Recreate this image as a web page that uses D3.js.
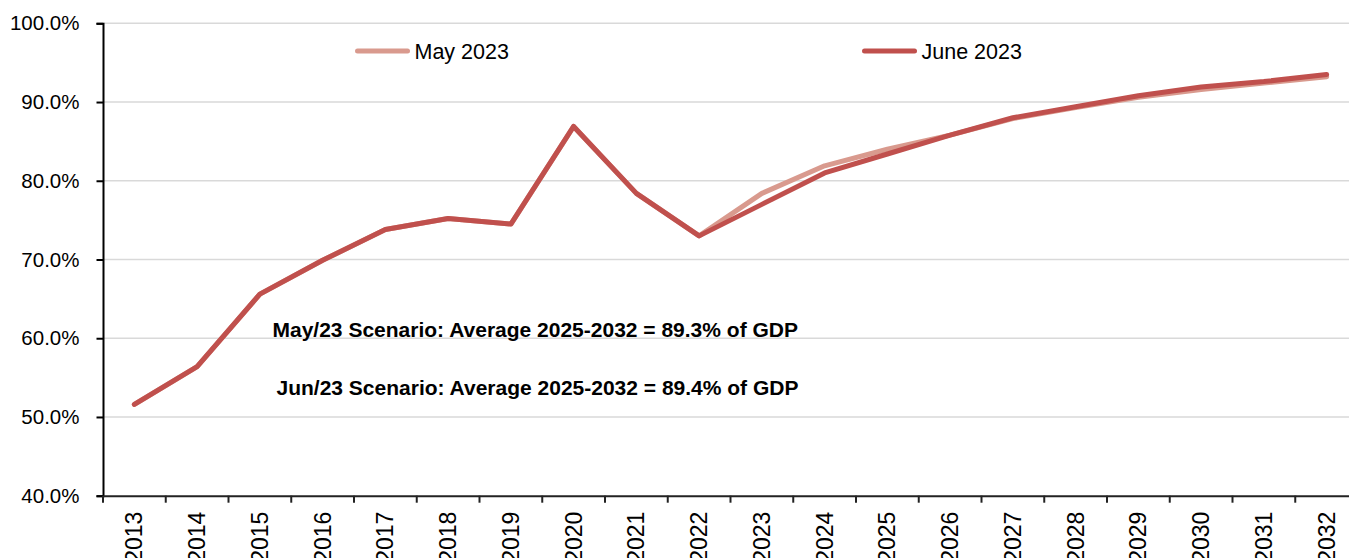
<!DOCTYPE html>
<html>
<head>
<meta charset="utf-8">
<script src="https://cdn.jsdelivr.net/npm/d3@7"></script>
<style>
  body { margin: 0; background: #fff; }
  svg { display: block; font-family: "Liberation Sans", Arial, sans-serif; }
</style>
</head>
<body>
<script>
// chart data
const years = ["2013", "2014", "2015", "2016", "2017", "2018", "2019", "2020", "2021", "2022",
               "2023", "2024", "2025", "2026", "2027", "2028", "2029", "2030", "2031", "2032"];
const may2023 = [51.6, 56.4, 65.6, 69.9, 73.8, 75.2, 74.5, 86.9, 78.4, 73.0,
                 78.4, 81.9, 84.0, 85.8, 87.9, 89.3, 90.6, 91.6, 92.4, 93.2];
const june2023 = [51.6, 56.4, 65.6, 69.9, 73.8, 75.2, 74.5, 86.9, 78.4, 73.0,
                  77.0, 81.0, 83.4, 85.8, 88.0, 89.4, 90.8, 91.9, 92.6, 93.5];
const yTicks = [40, 50, 60, 70, 80, 90, 100];
const seriesNames = ["May 2023", "June 2023"];
const notes = ["May/23 Scenario: Average 2025-2032 = 89.3% of GDP",
               "Jun/23 Scenario: Average 2025-2032 = 89.4% of GDP"];

const W = 1349, H = 558;
const plot = { left: 103, right: 1358, top: 23.3, bottom: 495.7 };
const colors = ["#D99A8E", "#C0504D"];

const svg = d3.select("body").append("svg")
    .attr("width", W)
    .attr("height", H);

const x = d3.scaleBand().domain(years).range([plot.left, plot.right]).padding(0);
const y = d3.scaleLinear().domain([40, 100]).range([plot.bottom, plot.top]);

// gridlines
svg.append("g")
    .selectAll("line")
    .data(yTicks.slice(1))
    .join("line")
    .attr("x1", plot.left).attr("x2", W)
    .attr("y1", d => y(d)).attr("y2", d => y(d))
    .attr("stroke", "#d9d9d9")
    .attr("stroke-width", 1.5);

// y axis
const yAxis = svg.append("g")
    .attr("transform", `translate(${plot.left},0)`)
    .call(d3.axisLeft(y).tickValues(yTicks).tickSize(6.5).tickPadding(17)
        .tickFormat(d => d.toFixed(1) + "%"));
yAxis.select(".domain").attr("stroke", "#000").attr("stroke-width", 2);
yAxis.selectAll(".tick line").attr("stroke", "#000").attr("stroke-width", 2);
yAxis.selectAll("text")
    .attr("font-size", "20.5px")
    .attr("fill", "#000")
    .style("font-family", "'Liberation Sans', Arial, sans-serif");

// x axis (labels at band centres, ticks at band edges)
const xAxis = svg.append("g")
    .attr("transform", `translate(0,${plot.bottom})`)
    .call(d3.axisBottom(x).tickSize(0).tickSizeOuter(0));
xAxis.select(".domain").attr("stroke", "#222").attr("stroke-width", 2);
xAxis.selectAll("text")
    .attr("transform", "rotate(-90)")
    .attr("text-anchor", "end")
    .attr("x", -16)
    .attr("y", 0)
    .attr("dy", "0.35em")
    .attr("font-size", "23px")
    .attr("fill", "#000")
    .style("font-family", "'Liberation Sans', Arial, sans-serif");
xAxis.append("g")
    .selectAll("line")
    .data(years)
    .join("line")
    .attr("x1", d => x(d)).attr("x2", d => x(d))
    .attr("y1", 0).attr("y2", 7)
    .attr("stroke", "#222")
    .attr("stroke-width", 2);

// lines
const line = d3.line()
    .x((d, i) => x(years[i]) + x.bandwidth() / 2)
    .y(d => y(d));

[may2023, june2023].forEach((s, i) => {
    svg.append("path")
        .datum(s)
        .attr("fill", "none")
        .attr("stroke", colors[i])
        .attr("stroke-width", 5)
        .attr("stroke-linejoin", "round")
        .attr("stroke-linecap", "round")
        .attr("d", line);
});

// legend
const legendX = [357.5, 864.5];
seriesNames.forEach((name, i) => {
    const g = svg.append("g").attr("transform", `translate(${legendX[i]},51)`);
    g.append("line")
        .attr("x1", 0).attr("x2", 50)
        .attr("stroke", colors[i])
        .attr("stroke-width", 5)
        .attr("stroke-linecap", "round");
    g.append("text")
        .attr("x", 57)
        .attr("y", 7.5)
        .attr("font-size", "21.5px")
        .attr("fill", "#000")
        .text(name);
});

// annotations
const noteX = [272.5, 276.5];
const noteY = [337, 395];
notes.forEach((t, i) => {
    svg.append("text")
        .attr("x", noteX[i])
        .attr("y", noteY[i])
        .attr("font-size", "21px")
        .attr("font-weight", "bold")
        .attr("fill", "#000")
        .text(t);
});
</script>
</body>
</html>
